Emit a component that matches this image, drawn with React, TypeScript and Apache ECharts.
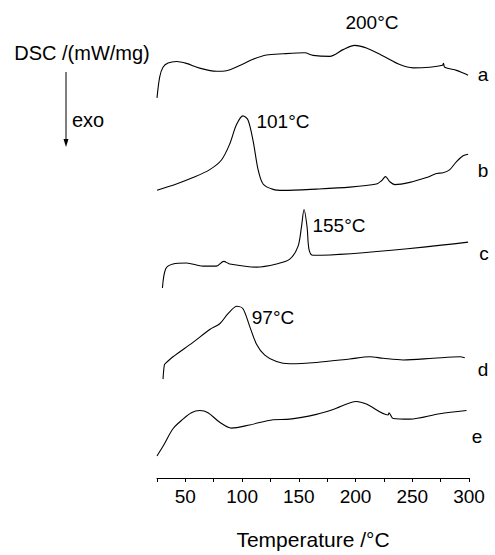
import React, { useEffect, useRef } from "react";
import * as echarts from "echarts";

// Temperature (°C) vs DSC signal (arbitrary offset units, each trace stacked)
const traceA: [number, number][] = [
  [25, 396], [27.4, 418], [30.3, 428], [34.7, 432.3], [42.1, 434], [50.9, 432],
  [62.7, 427], [77.4, 423.7], [86.2, 424.3], [97.9, 429.7], [109.7, 436.3],
  [121.5, 440.7], [136.1, 442], [155.2, 443], [162.6, 440.3], [177.3, 439.3],
  [189, 446.3], [199.3, 450.7], [209.6, 448], [224.3, 439.7], [239, 430.7],
  [250.7, 427.3], [265.4, 428], [276.6, 430], [277.5, 432], [278.6, 428],
  [289, 424.7], [294.8, 422], [299.2, 419.7],
];
const traceB: [number, number][] = [
  [25, 299.7], [42.1, 306.3], [56.7, 313], [71.5, 321.3], [81.8, 331.3],
  [89.1, 348], [95, 368], [100.8, 377.3], [105.2, 373], [109.7, 351.3],
  [114.1, 321.3], [118.5, 306.3], [127.3, 300.7], [136.1, 299.7], [165.5, 301],
  [194.9, 303], [218.4, 306.3], [222.9, 309.7], [226.4, 314], [230.2, 308.7],
  [234.6, 305.7], [247.8, 308], [262.5, 313], [271.4, 317.3], [277.2, 318],
  [283.1, 321.3], [289, 329.7], [294.8, 335.7], [299.2, 337.3],
];
const traceC: [number, number][] = [
  [29.8, 198], [32.7, 218], [39.1, 223], [50.9, 224], [65.6, 220.7], [77.4, 220.7],
  [83.8, 225.7], [89.1, 223], [112.6, 219.7], [130.3, 223], [142, 228],
  [149.3, 241.3], [152.3, 261.3], [154.6, 279.7], [157.3, 261.3], [159, 238],
  [162.6, 232], [299.2, 245.7],
];
const traceD: [number, number][] = [
  [30.3, 103], [31.5, 118], [32.7, 119.7], [39.1, 126.3], [56.7, 141.3],
  [71.5, 154.7], [80.3, 160.7], [87.6, 171.3], [95.5, 179], [100.8, 176.3],
  [106.7, 158], [112.6, 139.7], [120, 128], [130.3, 121.3], [142, 119],
  [165.5, 120.3], [194.9, 124], [212.5, 126.3], [224.3, 124.7], [241.9, 123],
  [268.4, 124.7], [291.9, 126.3], [296.3, 125.3],
];
const traceE: [number, number][] = [
  [25, 23], [30.3, 33], [39.1, 51.3], [47.9, 61.3], [55.3, 68], [62.7, 70.3],
  [70, 68], [80.3, 58], [90.6, 52], [106.7, 55.3], [127.3, 60.7], [142, 61.3],
  [165.5, 66.3], [180.2, 71.3], [200.8, 79.7], [209.6, 77], [228.7, 65.7],
  [229.5, 68], [233.1, 62], [247.8, 61.3], [274.3, 67], [297.8, 70.3],
];

const traceNames = ["a", "b", "c", "d", "e"];
const peakLabels = ["200°C", "101°C", "155°C", "97°C"];
const xTickLabels = [50, 100, 150, 200, 250, 300];

const FONT = "'Liberation Sans', Arial, sans-serif";

export default function App() {
  const ref = useRef<HTMLDivElement>(null);
  useEffect(() => {
    document.body.style.margin = "0";
    if (!ref.current) return;
    const chart = echarts.init(ref.current, undefined, { renderer: "svg" });
    const traces = [traceA, traceB, traceC, traceD, traceE];
    const txt = (text: string, x: number, y: number, size: number, align = "center") => ({
      type: "text",
      x,
      y,
      style: {
        text,
        fill: "#000",
        font: `${size}px ${FONT}`,
        textAlign: align,
        textVerticalAlign: "middle",
      },
    });
    const namePos = [
      [483, 74], [483, 170], [484, 253], [483, 369], [477, 436],
    ];
    const peakPos = [
      [372, 22], [283, 121], [339, 225], [273, 317],
    ];
    chart.setOption({
      animation: false,
      backgroundColor: "#fff",
      grid: { left: 157, right: 26, top: 0, bottom: 57 },
      xAxis: {
        type: "value",
        min: 25,
        max: 300,
        interval: 25,
        name: "Temperature /°C",
        nameLocation: "middle",
        nameGap: 51,
        nameTextStyle: { color: "#000", fontSize: 21, fontFamily: FONT },
        axisLine: { lineStyle: { color: "#000", width: 1 } },
        axisTick: { length: 4, lineStyle: { color: "#000" } },
        splitLine: { show: false },
        axisLabel: {
          color: "#000",
          fontSize: 19,
          fontFamily: FONT,
          margin: 9,
          formatter: (v: number) => (xTickLabels.includes(v) ? String(v) : ""),
        },
      },
      yAxis: { type: "value", min: 0, max: 498, show: false },
      series: traces.map((d, i) => ({
        name: traceNames[i],
        type: "line",
        data: d,
        showSymbol: false,
        smooth: 0.3,
        lineStyle: { color: "#000", width: 1.1 },
      })),
      graphic: [
        txt("DSC /(mW/mg)", 82, 53, 20),
        txt("exo", 72, 120, 20, "left"),
        { type: "line", shape: { x1: 66, y1: 72, x2: 66, y2: 140 }, style: { stroke: "#000", lineWidth: 1 } },
        { type: "polygon", shape: { points: [[63.5, 139], [68.5, 139], [66, 147]] }, style: { fill: "#000" } },
        ...traceNames.map((n, i) => txt(n, namePos[i][0], namePos[i][1], 19)),
        ...peakLabels.map((p, i) => txt(p, peakPos[i][0], peakPos[i][1], 19)),
      ],
    });
    return () => chart.dispose();
  }, []);
  return <div ref={ref} style={{ width: 495, height: 555 }} />;
}
